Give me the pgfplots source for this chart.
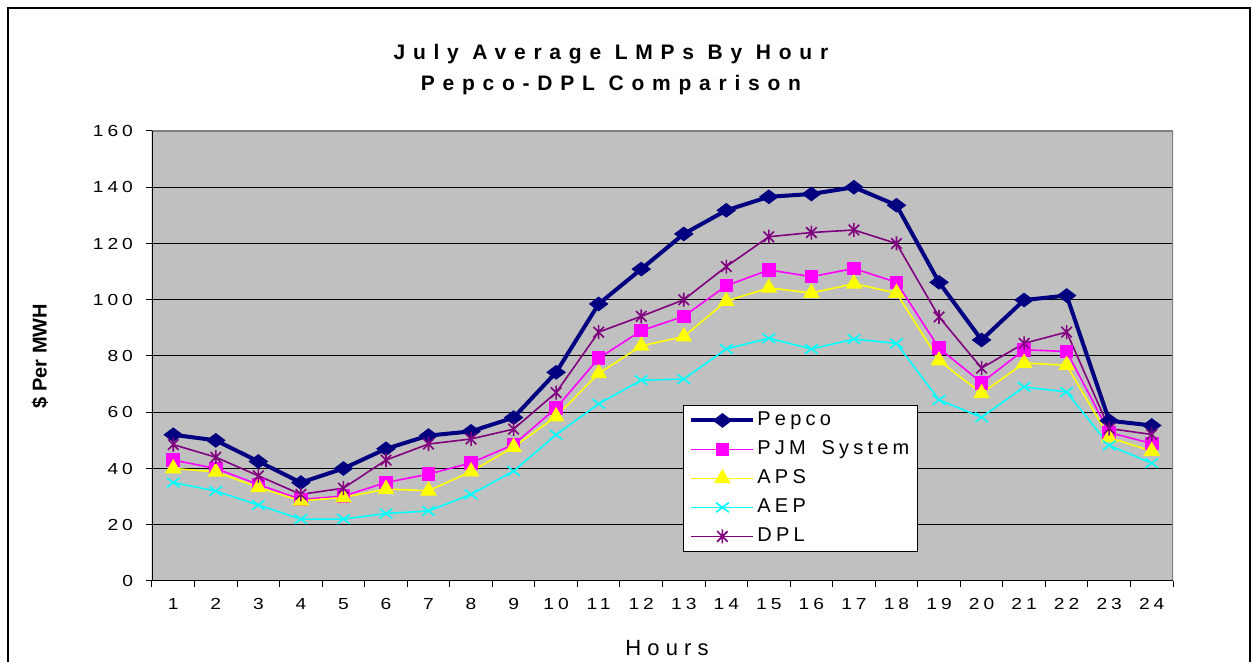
\documentclass[border=0pt]{standalone}
\usepackage{fontspec}
\setmainfont{Liberation Sans}
\newfontfamily\titlefont[LetterSpace=37]{Liberation Sans}
\newfontfamily\tickfont[FakeStretch=1.2,LetterSpace=25]{Liberation Sans}
\newfontfamily\legfont[LetterSpace=21]{Liberation Sans}
\newfontfamily\hoursfont[LetterSpace=28]{Liberation Sans}
\usepackage{pgfplots}
\pgfplotsset{compat=1.18}
\usepackage{pgfplotstable}
\definecolor{bggray}{HTML}{C0C0C0}
\definecolor{bordergray}{HTML}{808080}
\definecolor{pepco}{HTML}{000080}
\definecolor{pjm}{HTML}{FF00FF}
\definecolor{aps}{HTML}{FFFF00}
\definecolor{aep}{HTML}{00FFFF}
\definecolor{dpl}{HTML}{800080}
\pgfdeclareplotmark{xstar}{%
  \pgfpathmoveto{\pgfqpoint{-.75\pgfplotmarksize}{-.75\pgfplotmarksize}}%
  \pgfpathlineto{\pgfqpoint{.75\pgfplotmarksize}{.75\pgfplotmarksize}}%
  \pgfpathmoveto{\pgfqpoint{-.75\pgfplotmarksize}{.75\pgfplotmarksize}}%
  \pgfpathlineto{\pgfqpoint{.75\pgfplotmarksize}{-.75\pgfplotmarksize}}%
  \pgfpathmoveto{\pgfqpoint{0pt}{-\pgfplotmarksize}}%
  \pgfpathlineto{\pgfqpoint{0pt}{\pgfplotmarksize}}%
  \pgfusepathqstroke}
\pgfplotstableread{
hour pepco pjm aps aep dpl
1 52 43 40 35 48.5
2 50 40 38.8 32 44
3 42.5 34.3 33.3 27 37.4
4 35 29 28.5 22 30.8
5 40 30.2 29.7 22 33
6 47 35 32.7 24 43
7 51.7 38 32.1 24.9 48.7
8 53.2 42 38.9 30.8 50.5
9 58.1 48.5 47.6 39.1 54
10 74.2 61.5 58.5 52 67
11 98.5 79.2 73.8 63 88.5
12 110.9 89 83.6 71.4 94.1
13 123.4 94.1 86.9 71.8 100
14 131.8 105 99.5 82.5 111.8
15 136.6 110.6 104.2 86.3 122.4
16 137.6 108.2 102.4 82.5 123.9
17 140 111.1 105.7 86 124.8
18 133.6 106.2 102.4 84.5 120
19 106.2 82.8 78.4 64.4 93.9
20 85.7 70.5 66.7 58.2 75.7
21 99.9 82.2 77.5 69 84.5
22 101.5 81.6 76.7 67.2 88.5
23 57 52.8 51 48.2 54.2
24 55.3 48.9 46.2 41.9 52.1
}\lmpdata
\begin{document}
\begin{tikzpicture}
\begin{axis}[
  at={(0,0)}, anchor=south west,
  scale only axis,
  width=510.5pt, height=225pt,
  xmin=0.5, xmax=24.5,
  ymin=0, ymax=160,
  ytick={0,20,...,160},
  xtick={0.5,1.5,...,24.5},
  xticklabels={},
  extra x ticks={1,2,...,24},
  extra x tick style={major tick length=0pt, grid=none},
  xtick pos=left, ytick pos=left,
  tick align=outside,
  major tick length=3pt,
  tick style={black, line width=0.5pt},
  axis line style={draw=none},
  axis background/.style={fill=bggray},
  ymajorgrids,
  grid style={black, line width=0.5pt},
  /pgf/number format/assume math mode=true,
  yticklabel style={font=\tickfont\fontsize{8}{10}\selectfont, anchor=east, xshift=-3pt},
  xticklabel style={font=\tickfont\fontsize{8}{10}\selectfont, anchor=north, yshift=-5pt},
  ylabel={\$ Per MWH},
  ylabel style={font=\bfseries\fontsize{10}{12}\selectfont, at={(axis description cs:-0.1097,0.5)}, anchor=center},
  xlabel={Hours},
  xlabel style={font=\hoursfont\fontsize{11}{13}\selectfont, at={(axis description cs:0.5044,-0.149)}, anchor=center},
  title={July Average LMPs By Hour\\Pepco-DPL Comparison},
  title style={font=\titlefont\bfseries\fontsize{10.5}{15.2}\selectfont, at={(axis description cs:0.4495,1.110)}, anchor=center, align=center},
  legend style={at={(axis description cs:0.520,0.391)}, anchor=north west,
    draw=black, line width=0.5pt, fill=white, inner xsep=3pt, inner ysep=1.2pt,
    row sep=2pt,
    nodes={inner sep=1pt, text height=8pt, text depth=2.5pt},
    font=\legfont\fontsize{10}{12}\selectfont},
  legend cell align=left,
  legend image code/.code={\draw[mark repeat=2,mark phase=2,#1] plot coordinates {(0pt,0pt) (15.5pt,0pt) (31pt,0pt)};},
]
\addplot[pepco, line width=2pt, mark=diamond*, mark size=4.5pt, mark options={solid, rotate=90, fill=pepco, line width=0.5pt}] table[x=hour,y=pepco] {\lmpdata};
\addlegendentry{Pepco}
\addplot[pjm, line width=0.8pt, mark=square*, mark size=3pt, mark options={solid, fill=pjm}] table[x=hour,y=pjm] {\lmpdata};
\addlegendentry{PJM\hspace{3pt} System\hspace{7pt}}
\addplot[aps, line width=0.8pt, mark=triangle*, mark size=4pt, mark options={solid, fill=aps}] table[x=hour,y=aps] {\lmpdata};
\addlegendentry{APS}
\addplot[aep, line width=0.8pt, mark=x, mark size=4.5pt, mark options={solid, yscale=0.75, line width=0.8pt}] table[x=hour,y=aep] {\lmpdata};
\addlegendentry{AEP}
\addplot[dpl, line width=0.8pt, mark=xstar, mark size=3.5pt, mark options={solid, line width=0.8pt}] table[x=hour,y=dpl] {\lmpdata};
\addlegendentry{DPL}
\draw[bordergray, line width=0.8pt] (rel axis cs:0,1) -- (rel axis cs:1,1) -- (rel axis cs:1,0);
\draw[black, line width=0.8pt] (rel axis cs:0,1) -- (rel axis cs:0,0) -- (rel axis cs:1,0);
\end{axis}
\draw[black, line width=0.8pt] (-72pt,-45pt) rectangle (549pt,286.5pt);
\pgfresetboundingbox
\path[use as bounding box] (-76pt,-40.5pt) rectangle (550pt,290.5pt);
\end{tikzpicture}
\end{document}
